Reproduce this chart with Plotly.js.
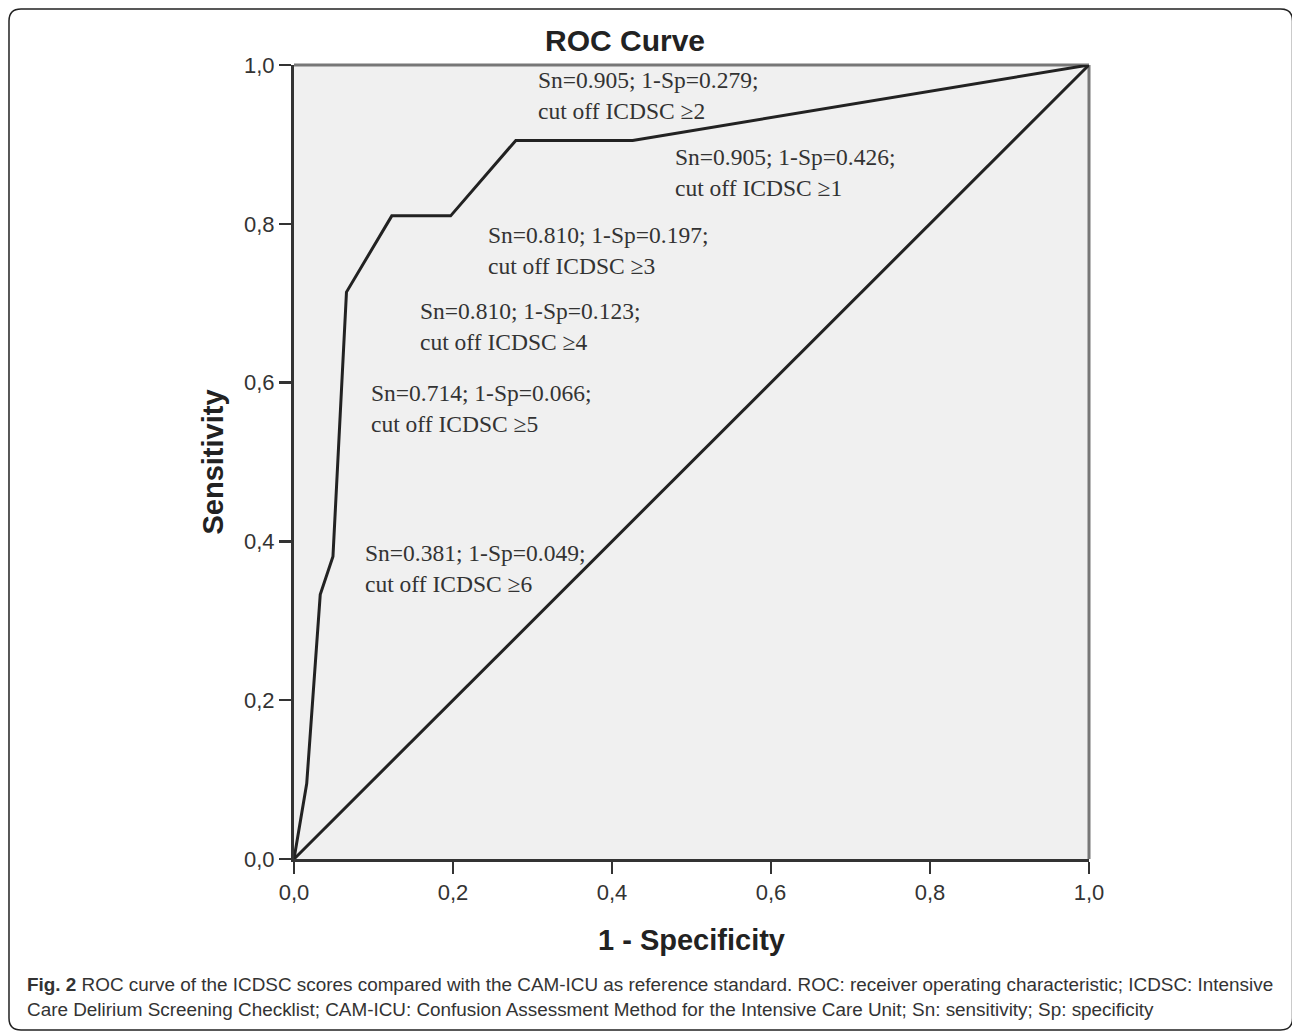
<!DOCTYPE html>
<html>
<head>
<meta charset="utf-8">
<script src="https://cdn.plot.ly/plotly-3.0.1.min.js"></script>
<style>
html,body{margin:0;padding:0;background:#fff;}
#chart{width:1292px;height:1031px;}
</style>
</head>
<body>
<div id="chart"></div>
<script>
// ROC curve points (1 - specificity, sensitivity)
const rocFpr  = [0, 0.016, 0.033, 0.049, 0.066, 0.123, 0.197, 0.279, 0.426, 1.0];
const rocSens = [0, 0.095, 0.333, 0.381, 0.714, 0.810, 0.810, 0.905, 0.905, 1.0];
// reference diagonal
const diagX = [0, 1];
const diagY = [0, 1];
// labelled cut-offs
const cutoffs   = [2, 1, 3, 4, 5, 6];
const cutSn     = [0.905, 0.905, 0.810, 0.810, 0.714, 0.381];
const cutFpr    = [0.279, 0.426, 0.197, 0.123, 0.066, 0.049];
// tick labels
const tickVals  = [0, 0.2, 0.4, 0.6, 0.8, 1.0];
const tickText  = ["0,0", "0,2", "0,4", "0,6", "0,8", "1,0"];

// label placement (paper coordinates of each two-line label block)
const labelPos = [[0.305,0.961],[0.477,0.864],[0.241,0.767],[0.156,0.671],[0.094,0.567],[0.087,0.366]];

const traces = [
  {x: diagX, y: diagY, mode: 'lines', line: {color: '#222', width: 3}, hoverinfo: 'skip'},
  {x: rocFpr, y: rocSens, mode: 'lines', line: {color: '#222', width: 3}, hoverinfo: 'skip'}
];

const annotations = cutoffs.map((c, i) => ({
  xref: 'paper', yref: 'paper', x: labelPos[i][0], y: labelPos[i][1],
  xanchor: 'left', yanchor: 'middle', align: 'left', showarrow: false,
  text: 'Sn=' + cutSn[i].toFixed(3) + '; 1-Sp=' + cutFpr[i].toFixed(3) + ';<br>cut off ICDSC \u2265' + c,
  font: {family: 'Liberation Serif, Times New Roman, serif', size: 23.5, color: '#333'}
}));

annotations.push({
  xref: 'paper', yref: 'paper', x: -0.3384, y: -0.1738,
  xanchor: 'left', yanchor: 'middle', align: 'left', showarrow: false,
  text: '<b>Fig. 2</b> ROC curve of the ICDSC scores compared with the CAM-ICU as reference standard. ROC: receiver operating characteristic; ICDSC: Intensive<br>Care Delirium Screening Checklist; CAM-ICU: Confusion Assessment Method for the Intensive Care Unit; Sn: sensitivity; Sp: specificity',
  font: {family: 'Liberation Sans, Arial, sans-serif', size: 18.9, color: '#333'}
});

// frame (rounded rectangle) in paper coordinates
const fx0 = -0.3585, fx1 = 1.2560, fy0 = -0.2154, fy1 = 1.0705, rx = 0.0151, ry = 0.0151;
const framePath = `M ${fx0} ${fy0+ry} L ${fx0} ${fy1-ry} Q ${fx0} ${fy1} ${fx0+rx} ${fy1} L ${fx1-rx} ${fy1} Q ${fx1} ${fy1} ${fx1} ${fy1-ry} L ${fx1} ${fy0+ry} Q ${fx1} ${fy0} ${fx1-rx} ${fy0} L ${fx0+rx} ${fy0} Q ${fx0} ${fy0} ${fx0} ${fy0+ry} Z`;

const layout = {
  width: 1292, height: 1031,
  margin: {l: 294, r: 203, t: 65, b: 172},
  paper_bgcolor: '#ffffff',
  plot_bgcolor: '#f0f0f0',
  showlegend: false,
  title: {
    text: '<b>ROC Curve</b>',
    xref: 'container', yref: 'container',
    x: 545/1292, xanchor: 'left', y: 1 - 40/1031, yanchor: 'middle',
    font: {family: 'Liberation Sans, Arial, sans-serif', size: 30, color: '#222'}
  },
  xaxis: {
    range: [0, 1], fixedrange: true,
    tickvals: tickVals, ticktext: tickText,
    ticks: 'outside', ticklen: 12, tickwidth: 2.5, tickcolor: '#333',
    showline: true, linecolor: '#333', linewidth: 3,
    showgrid: false, zeroline: false,
    tickfont: {family: 'Liberation Sans, Arial, sans-serif', size: 22, color: '#333'},
    title: {text: '<b>1 - Specificity</b>', standoff: 26,
            font: {family: 'Liberation Sans, Arial, sans-serif', size: 29, color: '#222'}}
  },
  yaxis: {
    range: [0, 1], fixedrange: true,
    tickvals: tickVals, ticktext: tickText,
    ticks: 'outside', ticklen: 12, tickwidth: 2.5, tickcolor: '#333',
    showline: true, linecolor: '#333', linewidth: 3,
    showgrid: false, zeroline: false,
    tickfont: {family: 'Liberation Sans, Arial, sans-serif', size: 22, color: '#333'},
    title: {text: '<b>Sensitivity</b>', standoff: 12,
            font: {family: 'Liberation Sans, Arial, sans-serif', size: 29, color: '#222'}}
  },
  shapes: [
    {type: 'line', xref: 'paper', yref: 'paper', x0: 0, x1: 1, y0: 1, y1: 1, line: {color: '#777', width: 3}, layer: 'below'},
    {type: 'line', xref: 'paper', yref: 'paper', x0: 1, x1: 1, y0: 0, y1: 1, line: {color: '#777', width: 3}, layer: 'below'},
    {type: 'path', xref: 'paper', yref: 'paper', path: framePath, line: {color: '#222', width: 1.5}, fillcolor: 'rgba(0,0,0,0)'}
  ],
  annotations: annotations
};

Plotly.newPlot('chart', traces, layout, {displayModeBar: false, staticPlot: true});
</script>
</body>
</html>
